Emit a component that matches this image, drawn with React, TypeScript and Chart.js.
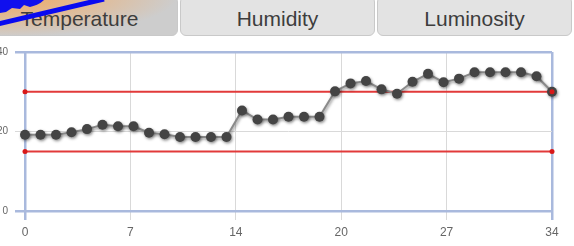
import React, { useEffect, useRef } from "react";
import { Chart, registerables } from "chart.js";

Chart.register(...registerables);

const tabs = ["Temperature", "Humidity", "Luminosity"];
const days = Array.from({ length: 35 }, (_, i) => i);
const temperature = [
  19.2, 19.2, 19.2, 19.8, 20.6, 21.7, 21.3, 21.3, 19.7, 19.3, 18.6, 18.6,
  18.6, 18.6, 25.3, 23.0, 23.0, 23.7, 23.7, 23.7, 30.1, 32.1, 32.7, 30.6,
  29.5, 32.5, 34.5, 32.4, 33.3, 34.9, 34.9, 34.9, 34.9, 33.9, 30.0,
];
const upperLimit = 30;
const lowerLimit = 15;
const xRange = [0, 34];
const xTickLabels = ["0", "7", "14", "20", "27", "34"];
const yTicks = [0, 20, 40];

const BLUE = "#a9b9dd";
const GRID = "#d9d9d9";
const RED = "#e23a3a";

export default function App() {
  const ref = useRef<HTMLCanvasElement | null>(null);

  useEffect(() => {
    document.body.style.margin = "0";
    const canvas = ref.current!;
    const xStep = (xRange[1] - xRange[0]) / (xTickLabels.length - 1);
    const shadowPlugin = {
      id: "ptShadow",
      beforeDatasetDraw(chart: any, args: any) {
        if (args.index === 2) {
          const c = chart.ctx;
          c.save();
          c.shadowColor = "rgba(0,0,0,0.45)";
          c.shadowBlur = 3;
          c.shadowOffsetX = 1;
          c.shadowOffsetY = 1.5;
        }
      },
      afterDatasetDraw(chart: any, args: any) {
        if (args.index === 2) chart.ctx.restore();
      },
    };
    const chart = new Chart(canvas, {
      type: "scatter",
      data: {
        datasets: [
          {
            data: [
              { x: xRange[0], y: upperLimit },
              { x: xRange[1], y: upperLimit },
            ],
            showLine: true,
            borderColor: RED,
            borderWidth: 2,
            pointRadius: 0,
            order: 3,
          },
          {
            data: [
              { x: xRange[0], y: lowerLimit },
              { x: xRange[1], y: lowerLimit },
            ],
            showLine: true,
            borderColor: RED,
            borderWidth: 2,
            pointRadius: 0,
            order: 3,
          },
          {
            data: days.map((d, i) => ({ x: d, y: temperature[i] })),
            showLine: true,
            borderColor: "#8a8a8a",
            borderWidth: 2,
            pointRadius: 5,
            pointBackgroundColor: "#444",
            pointBorderColor: "#444",
            pointBorderWidth: 0,
            order: 2,
          },
          {
            data: [
              { x: xRange[0], y: upperLimit },
              { x: xRange[1], y: upperLimit },
              { x: xRange[0], y: lowerLimit },
              { x: xRange[1], y: lowerLimit },
            ],
            showLine: false,
            pointRadius: 2.5,
            pointBackgroundColor: "#d81818",
            pointBorderWidth: 0,
            order: 1,
          },
        ],
      },
      options: {
        responsive: false,
        animation: false,
        clip: false as any,
        layout: { padding: { top: 16, right: 22, left: 0, bottom: 0 } },
        plugins: { legend: { display: false }, tooltip: { enabled: false } },
        scales: {
          x: {
            type: "linear",
            min: xRange[0],
            max: xRange[1],
            afterFit: (s: any) => {
              s.height = 35;
            },
            afterBuildTicks: (s: any) => {
              s.ticks = xTickLabels.map((_, i) => ({ value: xRange[0] + i * xStep }));
            },
            ticks: {
              callback: (_v: any, i: number) => xTickLabels[i],
              font: { family: "Liberation Sans, Arial", size: 12 },
              color: "#666",
              padding: 5,
              maxRotation: 0,
            },
            grid: {
              color: (c: any) => (c.index === 0 || c.index === xTickLabels.length - 1 ? BLUE : GRID),
              lineWidth: (c: any) => (c.index === 0 || c.index === xTickLabels.length - 1 ? 2.5 : 1),
              tickLength: 9,
            },
            border: { display: false },
          },
          y: {
            min: 0,
            max: 40,
            afterFit: (s: any) => {
              s.width = 25;
            },
            afterBuildTicks: (s: any) => {
              s.ticks = yTicks.map((v) => ({ value: v }));
            },
            ticks: {
              font: { family: "Liberation Sans, Arial", size: 10 },
              color: "#666",
              padding: 7,
            },
            grid: {
              color: (c: any) => (c.tick && (c.tick.value === 0 || c.tick.value === 40) ? BLUE : GRID),
              lineWidth: (c: any) => (c.tick && (c.tick.value === 0 || c.tick.value === 40) ? 2.5 : 1),
              tickLength: 10,
            },
            border: { display: false },
          },
        },
      },
      plugins: [shadowPlugin],
    });
    return () => chart.destroy();
  }, []);

  const tabPos = [
    { left: -19, width: 197 },
    { left: 180, width: 195 },
    { left: 377, width: 195 },
  ];

  return (
    <div
      style={{
        position: "relative",
        width: 574,
        height: 246,
        background: "#fff",
        overflow: "hidden",
        fontFamily: "Liberation Sans, Arial, sans-serif",
      }}
    >
      {tabs.map((t, i) => (
        <div
          key={t}
          style={{
            position: "absolute",
            top: -4,
            left: tabPos[i].left,
            width: tabPos[i].width,
            height: 40,
            boxSizing: "border-box",
            border: "1px solid #c9c9c9",
            borderRadius: 6,
            background:
              i === 0
                ? "radial-gradient(ellipse 120% 140% at 10% 0%, rgba(240,166,92,0.95) 0%, rgba(236,176,118,0.7) 35%, rgba(205,205,205,0) 75%), #cdcdcd"
                : "#e3e3e3",
            display: "flex",
            alignItems: "center",
            justifyContent: "center",
            paddingTop: 6,
            fontSize: 21,
            color: "#3d3d3d",
          }}
        >
          {t}
        </div>
      ))}
      <svg
        width={110}
        height={30}
        style={{ position: "absolute", left: 0, top: 0 }}
      >
        <path d="M0 0 L44 0 C40 4 34 6 30 7 L24 5 L20 9 L12 8 L6 12 L0 13 Z" fill="#1010ee" />
        <line x1={-2} y1={24} x2={104} y2={-1} stroke="#0a0af0" strokeWidth={5} />
      </svg>
      <canvas
        ref={ref}
        width={574}
        height={210}
        style={{ position: "absolute", top: 36, left: 0, width: 574, height: 210 }}
      />
    </div>
  );
}
